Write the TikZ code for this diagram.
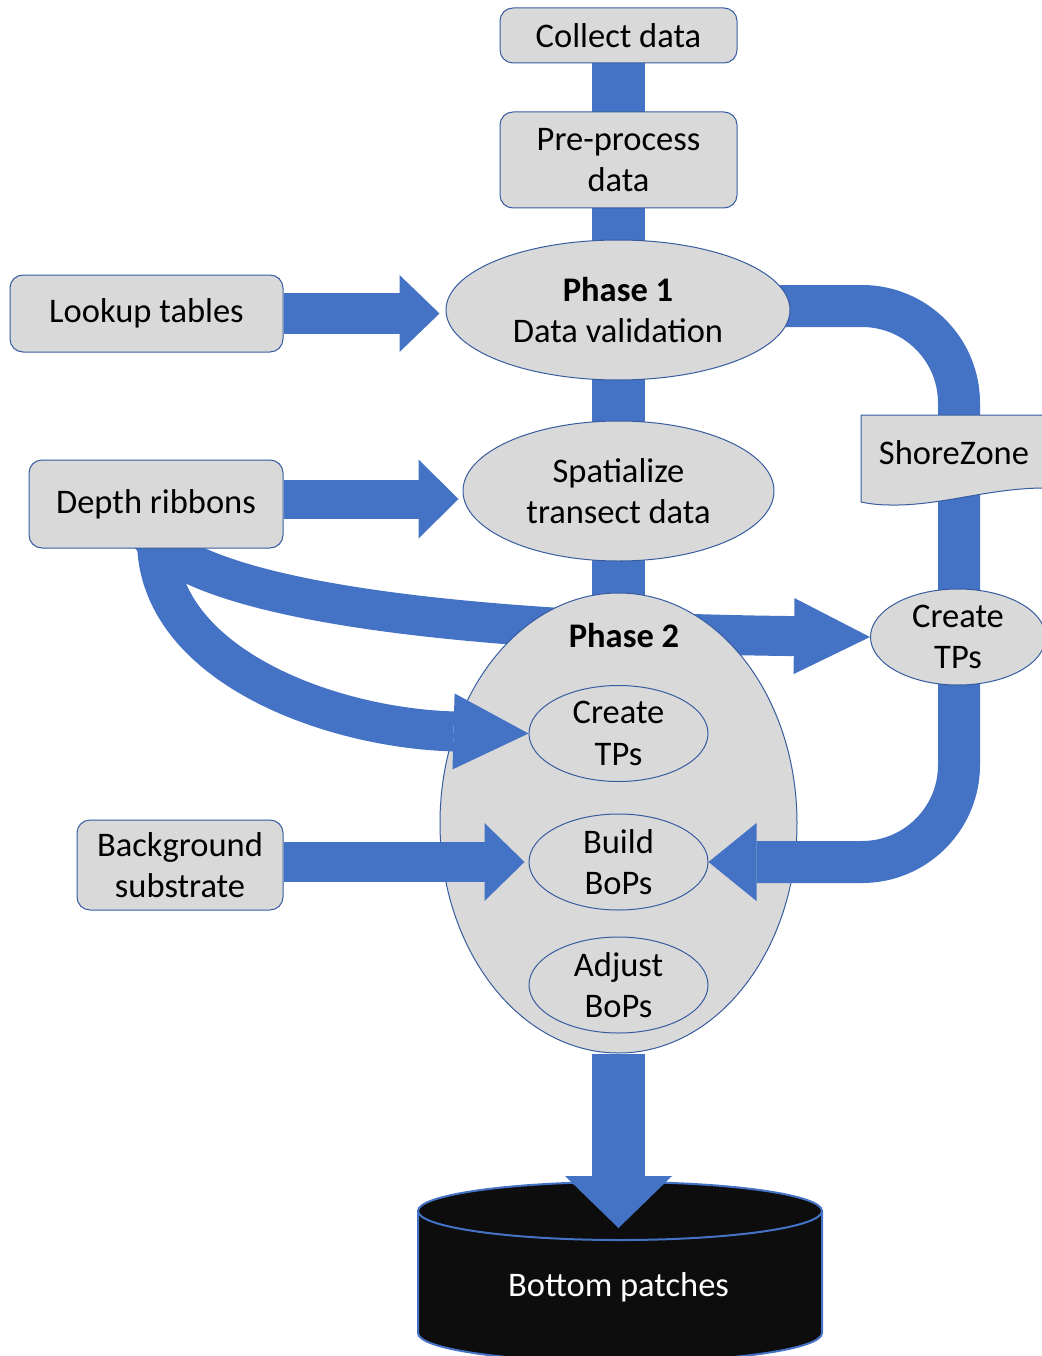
\documentclass[tikz,border=0pt]{standalone}
\usepackage{fontspec}
\setmainfont{Carlito}
\usetikzlibrary{arrows.meta,shapes.geometric}
\pgfdeclarelayer{back}
\pgfdeclarelayer{mid}
\pgfdeclarelayer{front}
\pgfsetlayers{back,mid,main,front}
\definecolor{flowblue}{RGB}{68,114,196}
\definecolor{edgeblue}{RGB}{55,92,160}
\definecolor{boxgray}{RGB}{217,217,217}
\definecolor{cylblack}{RGB}{13,13,13}
\begin{document}
\begin{tikzpicture}[x=1pt,y=-1pt,
  every node/.style={font=\fontsize{34.5}{41.5}\selectfont, text=black},
  box/.style={draw=edgeblue, line width=1pt, fill=boxgray, rounded corners=13pt, inner sep=0pt, align=center},
  oval/.style={ellipse, draw=edgeblue, line width=1pt, fill=boxgray, inner sep=-8pt, align=center},
  flow/.style={draw=flowblue, line width=#1},
  head/.style n args={2}{-{Triangle[length=#1,width=#2,line width=0pt]}}
]
\useasboundingbox (0,0) rectangle (1041,1356);

% ---------- nodes ----------
\begin{pgfonlayer}{mid}
  \node[oval, minimum width=357pt, minimum height=460pt] (p2) at (618.5,823) {};
  \path[draw=flowblue, line width=2pt, fill=cylblack]
    (418,1211) -- (418,1333) arc[start angle=180,end angle=360,x radius=202pt,y radius=29pt]
    -- (822,1211) -- cycle;
  \path[draw=flowblue, line width=2pt, fill=cylblack]
    (620,1211) ellipse [x radius=202pt, y radius=29pt];
\end{pgfonlayer}

\begin{pgfonlayer}{front}
  \node[box, minimum width=237pt, minimum height=55pt] (collect) at (618.5,35.5) {Collect data};
  \node[box, minimum width=237pt, minimum height=96pt] (pre) at (618.5,160) {Pre-process\\data};
  \node[box, minimum width=273pt, minimum height=77pt] (lookup) at (146.5,313.5) {Lookup tables};
  \node[box, minimum width=254pt, minimum height=88pt] (depth) at (156,504) {Depth ribbons};
  \node[box, minimum width=206pt, minimum height=90pt] (bg) at (180,865) {Background\\substrate};
  \node[oval, minimum width=344pt, minimum height=140pt] (p1) at (618,310) {\textbf{Phase 1}\\Data validation};
  \node[oval, minimum width=311pt, minimum height=140pt] (spat) at (618.5,491) {Spatialize\\transect data};
  \node[font=\fontsize{34.5}{41.5}\selectfont\bfseries] (p2lbl) at (624,636) {Phase 2};
  \node[oval, minimum width=179pt, minimum height=96pt] (ctp) at (618.5,733.5) {Create\\TPs};
  \node[oval, minimum width=179pt, minimum height=96pt] (bb) at (618.5,862) {Build\\BoPs};
  \node[oval, minimum width=179pt, minimum height=96pt] (ab) at (618.5,985) {Adjust\\BoPs};
  \path[draw=edgeblue, line width=1pt, fill=boxgray]
    (861,415) -- (1050,415) -- (1050,488) -- (1041,488)
    .. controls (985,489) and (940,506) .. (890,505)
    .. controls (876,505) and (866,503) .. (861,502) -- cycle;
  \node (sz) at (954,453) {ShoreZone};
  \node[oval, minimum width=175pt, minimum height=96pt] (ctp2) at (958,637) {Create\\TPs};
  \node[text=white] (bp) at (618.5,1287) {Bottom patches};
\end{pgfonlayer}

\coordinate (fork1) at (150,535);
\coordinate (fork2) at (157,540);
\coordinate (c1) at (959,306);
\coordinate (c2) at (959,862);
\coordinate (cyltop) at (618.5,1228);

% ---------- connectors ----------
\begin{pgfonlayer}{back}
  \draw[flow=53pt] (collect.center) -- (p2.center);
  \draw[flow=40pt, head={76pt}{76pt}] (fork1) .. controls (205,600) and (450,632) .. (ctp2.west);
\end{pgfonlayer}

\draw[flow=42pt, rounded corners=97pt, head={48pt}{78pt}]
  (p1.center |- c1) -- (c1) -- (c2) -- (bb.east);
\draw[flow=40pt, head={75pt}{76pt}] (fork2) .. controls (157,665) and (330,728) .. (ctp.west);
\draw[flow=41pt, head={40pt}{77pt}] (lookup.east) -- ([xshift=-6pt]lookup.east -| p1.west);
\draw[flow=39pt, head={40pt}{79pt}] ([yshift=5pt]depth.east) -- ([xshift=-4pt,yshift=5pt]depth.east -| spat.west);
\draw[flow=40pt, head={40pt}{78pt}] (bg.east |- bb.west) -- ([xshift=-4pt]bb.west);
\draw[flow=53pt, head={52pt}{107pt}] (p2.south) -- (cyltop);
\end{tikzpicture}
\end{document}
